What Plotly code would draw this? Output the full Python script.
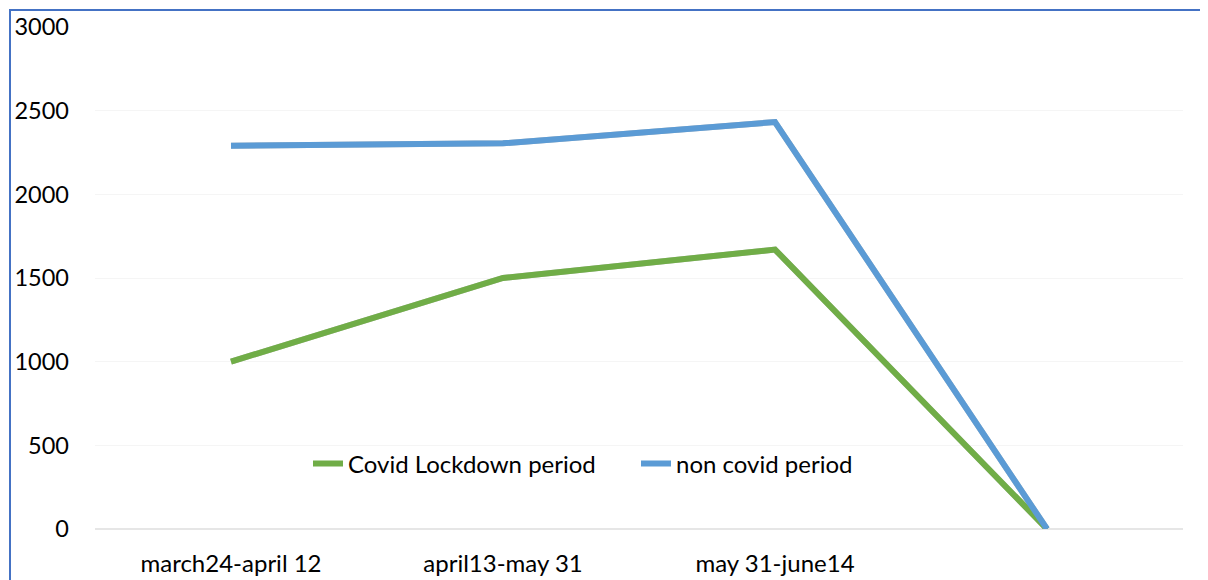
import plotly.graph_objects as go

categories = ["march24-april 12", "april13-may 31", "may 31-june14", " "]
covid_lockdown = [1000, 1500, 1670, 0]
non_covid = [2290, 2305, 2432, 0]
y_ticks = [0, 500, 1000, 1500, 2000, 2500, 3000]

# page body has an 8px margin, so the figure is sized to fit the window
OFF = 8
W, H = 1208 - OFF, 580 - OFF
ml, mr, mt, mb = 87, 25, 19, 51
pw, ph = W - ml - mr, H - mt - mb

# shadow offset in pixels (drawn through shifted overlay axes)
sx, sy = 2, 3
PW, PH = pw + sx, ph + sy


def fx(px):  # screen pixel x -> paper fraction
    return (px - OFF - ml) / PW


def fy(py):  # screen pixel y -> paper fraction
    return (H - (mb - sy) - (py - OFF)) / PH


shadow = "rgba(0,0,0,0.25)"
fig = go.Figure()
# invisible carrier trace for the visible base axes
fig.add_trace(go.Scatter(x=categories, y=non_covid, mode="lines", opacity=0,
                         showlegend=False, hoverinfo="skip"))
# shadows
for vals in (covid_lockdown, non_covid):
    fig.add_trace(go.Scatter(x=categories, y=vals, mode="lines",
                             xaxis="x2", yaxis="y2", showlegend=False,
                             hoverinfo="skip", line=dict(color=shadow, width=6)))
# main lines
fig.add_trace(go.Scatter(x=categories, y=covid_lockdown, mode="lines",
                         xaxis="x3", yaxis="y3", name="Covid Lockdown period",
                         line=dict(color="#70ad47", width=6)))
fig.add_trace(go.Scatter(x=categories, y=non_covid, mode="lines",
                         xaxis="x3", yaxis="y3", name="non covid period",
                         line=dict(color="#5b9bd5", width=6)))

xr = [-0.5, 3.5]
yr = [0, 3000]
fig.update_layout(
    width=W, height=H,
    margin=dict(l=ml, r=mr - sx, t=mt, b=mb - sy, autoexpand=False),
    paper_bgcolor="white", plot_bgcolor="white",
    font=dict(family="Lato, Noto Sans, sans-serif", size=24, color="#000000"),
    showlegend=True,
    legend=dict(orientation="h", x=fx(308), xanchor="left", y=fy(464), yanchor="middle",
                bgcolor="rgba(0,0,0,0)", font=dict(size=24),
                entrywidth=283, entrywidthmode="pixels", tracegroupgap=0),
    xaxis=dict(type="category", showgrid=False, showline=False, zeroline=False,
               ticks="", tickfont=dict(size=24), range=xr, automargin=False,
               ticklabelstandoff=18, domain=[0, pw / PW]),
    yaxis=dict(range=yr, tickvals=y_ticks, showgrid=True,
               gridcolor="#f5f5f5", gridwidth=1, zeroline=True,
               zerolinecolor="#e6e6e6", zerolinewidth=2, showline=False,
               ticks="", tickfont=dict(size=23.5), ticklabelstandoff=25,
               automargin=False, domain=[sy / PH, 1]),
    xaxis2=dict(type="category", overlaying="x", range=xr, visible=False,
                domain=[sx / PW, 1], anchor="y2"),
    yaxis2=dict(range=yr, overlaying="y", visible=False,
                domain=[0, ph / PH], anchor="x2"),
    xaxis3=dict(type="category", overlaying="x", range=xr, visible=False,
                domain=[0, pw / PW], anchor="y3"),
    yaxis3=dict(range=yr, overlaying="y", visible=False,
                domain=[sy / PH, 1], anchor="x3"),
)

fig.add_shape(type="rect", xref="paper", yref="paper",
              x0=fx(10), x1=fx(1208 + 20), y0=fy(580 + 20), y1=fy(10),
              line=dict(color="#4472c4", width=2), layer="above")

fig.write_html("out.html")
